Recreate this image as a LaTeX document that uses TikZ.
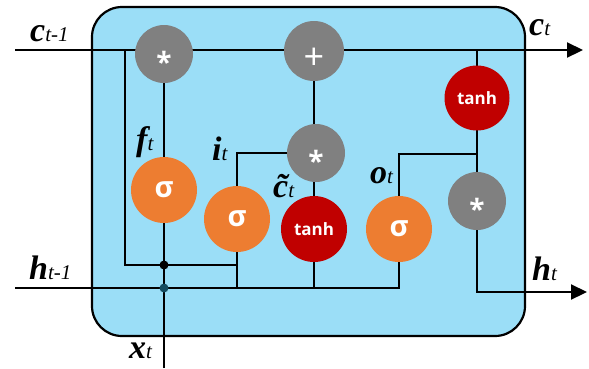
\documentclass[tikz,border=0pt]{standalone}
\usepackage{fontspec}
\setmainfont{Liberation Serif}
\newfontfamily\nodefont{Open Sans}
\usetikzlibrary{arrows.meta}
\definecolor{boxblue}{RGB}{155,222,247}
\definecolor{opgray}{RGB}{128,128,128}
\definecolor{sigorange}{RGB}{237,125,49}
\definecolor{tanhred}{RGB}{192,0,0}
\definecolor{dotteal}{RGB}{20,75,95}
\pgfdeclarelayer{bg}
\pgfdeclarelayer{wires}
\pgfsetlayers{bg,wires,main}
\newcommand\lstmlab[2]{{\fontsize{34}{34}\selectfont\bfseries\itshape #1}{\fontsize{21}{21}\selectfont\itshape #2}}
\begin{document}
\begin{tikzpicture}[x=1pt,y=-1pt,
  wire/.style={line width=2.2pt, draw=black},
  outwire/.style={wire, -{Triangle[length=16pt,width=15pt]}},
  opnode/.style={circle, fill=opgray, minimum size=58pt, inner sep=0pt, text=white,
     text height=0pt, text depth=0pt},
  signode/.style={circle, fill=sigorange, minimum size=66pt, inner sep=0pt, text=white,
     font=\nodefont\bfseries\fontsize{29}{29}\selectfont},
  tanhnode/.style={circle, fill=tanhred, minimum size=65pt, inner sep=0pt, text=white,
     font=\nodefont\bfseries\fontsize{17}{17}\selectfont},
  jdot/.style={circle, fill=black, minimum size=9pt, inner sep=0pt},
  lbl/.style={anchor=base west, inner sep=0pt},
]
\useasboundingbox (0,0) rectangle (589,368);
\begin{pgfonlayer}{bg}
\fill[white] (0,0) rectangle (589,368);
\draw[fill=boxblue, line width=2.2pt, rounded corners=30pt] (92,7) rectangle (525,336);
\end{pgfonlayer}

% operation nodes
\node[opnode] (m1) at (164,54) {\nodefont\bfseries\fontsize{28}{28}\selectfont\raisebox{-18pt}{*}};
\node[opnode, minimum size=60pt] (plus) at (314,51) {\nodefont\fontsize{36}{36}\selectfont\raisebox{-18pt}{+}};
\node[opnode] (m2) at (316,153) {\nodefont\bfseries\fontsize{28}{28}\selectfont\raisebox{-18pt}{*}};
\node[opnode] (m3) at (477,201) {\nodefont\bfseries\fontsize{28}{28}\selectfont\raisebox{-18pt}{*}};
\node[tanhnode] (th) at (477,98) {tanh};
\node[signode] (sf) at (164,190) {σ};
\node[signode] (si) at (237,219) {σ};
\node[tanhnode, minimum size=66pt] (tc) at (314,229) {tanh};
\node[signode] (so) at (399,229) {σ};

% junctions and free ends
\coordinate (cin) at (15,50);
\coordinate (cout) at (583,50);
\coordinate (hin) at (15,288);
\coordinate (hout) at (587,292);
\coordinate (xin) at (164,368);
\coordinate (j1) at (125,50);
\coordinate (j3) at (237,265);
\coordinate (oj) at (477,154);
\node[jdot] (d1) at (164,265) {};
\node[jdot, fill=dotteal] (d2) at (164,288) {};

\begin{pgfonlayer}{wires}
\draw[outwire] (cin) -- (cout);
\draw[wire] (j1) |- (j3);
\draw[wire] (si.center) -- (si.center |- hin);
\draw[wire] (hin) -| (so.center);
\draw[wire] (tc.center) -- (tc.center |- hin);
\draw[wire] (xin) -- (sf.center);
\draw[wire] (sf.center) -- (m1.center);
\draw[wire] (si.center) |- (m2.center);
\draw[wire] (tc.center) -- (plus.center);
\draw[wire] (so.center) |- (oj);
\draw[wire] (th.center |- cin) -- (m3.center);
\draw[outwire] (m3.center) |- (hout);
\end{pgfonlayer}

% labels
\node[lbl] (lc0) at (30,41) {\lstmlab{c}{t-1}};
\node[lbl] (lc1) at (529,35) {\lstmlab{c}{t}};
\node[lbl] (lf) at (136,150) {\lstmlab{f}{t}};
\node[lbl] (li) at (212,160) {\lstmlab{i}{t}};
\node[lbl] (lct) at (273,197) {\lstmlab{\~{c}}{t}};
\node[lbl] (lo) at (370,183) {\lstmlab{o}{t}};
\node[lbl] (lh0) at (29,279) {\lstmlab{h}{t-1}};
\node[lbl] (lx) at (129,358) {\lstmlab{x}{t}};
\node[lbl] (lh1) at (532,280) {\lstmlab{h}{t}};
\end{tikzpicture}
\end{document}
